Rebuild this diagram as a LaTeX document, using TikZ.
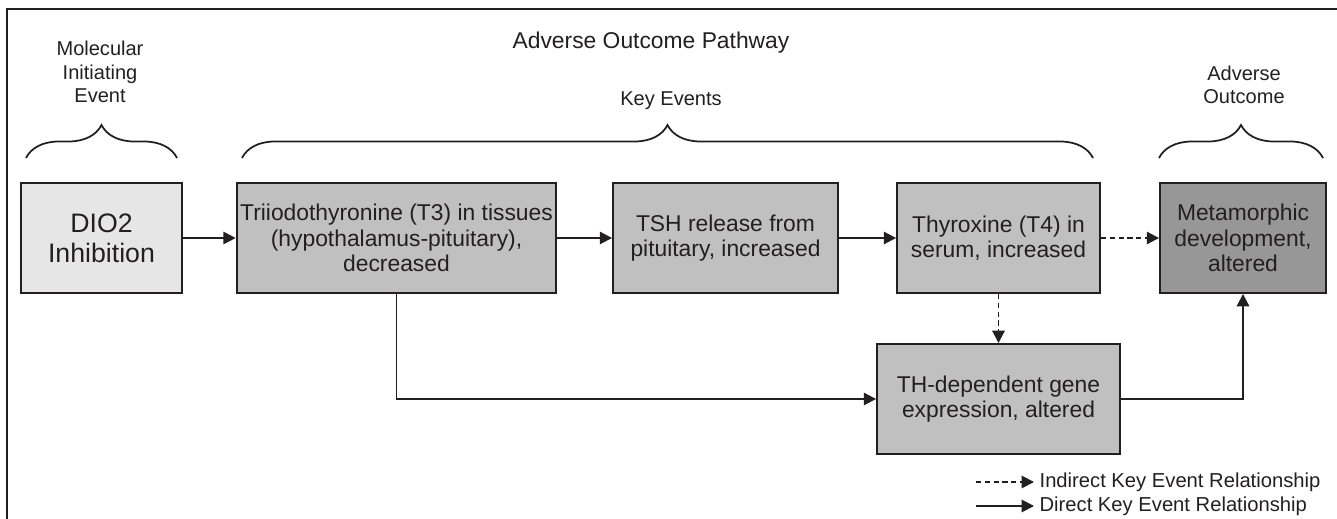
\documentclass[tikz,border=0pt]{standalone}
\usepackage{fontspec}
\setmainfont{Liberation Sans}
\usepackage{tikz}
\usetikzlibrary{calc, shapes, arrows.meta, decorations.pathreplacing}

\definecolor{ink}{HTML}{231F20}
\definecolor{mielight}{HTML}{E6E6E6}
\definecolor{kegray}{HTML}{C0C0C0}
\definecolor{aodark}{HTML}{979797}

\begin{document}
\begin{tikzpicture}[x=0.02cm, y=-0.02cm]
\tikzstyle{event}=[rectangle,draw=ink,line width=1.1pt,fill=kegray,text=ink,align=center,inner sep=2pt,minimum height=2.2cm,font=\fontsize{13}{14.5}\selectfont]
\tikzstyle{heading}=[text=ink,align=center,inner sep=0pt,font=\fontsize{11.4}{13.3}\selectfont]
\tikzstyle{direct}=[draw=ink,line width=1.1pt,-{Triangle[length=7pt,width=7pt]}]
\tikzstyle{indirect}=[direct,dash pattern=on 3pt off 2pt]
\tikzstyle{bracket}=[draw=ink,line width=1pt,decorate,decoration={brace,amplitude=0.66cm}]
\useasboundingbox (0,0) rectangle (1337,519);
\draw[ink,line width=1.1pt] (7,519) -- (7,9) -- (1337,9);
\node[heading,font=\fontsize{13}{15}\selectfont] (title) at (651,43) {Adverse Outcome Pathway};
\node[heading] (H_mie) at (100,72) {Molecular\\Initiating\\Event};
\node[heading] (H_ke) at (671,101) {Key Events};
\node[heading] (H_ao) at (1244,85) {Adverse\\Outcome};
\draw[bracket] (26,158) -- (177,158);
\draw[bracket] (242,158) -- (1093,158);
\draw[bracket] (1159,158) -- (1323,158);
\node[event,fill=mielight,minimum width=3.22cm,font=\fontsize{15.2}{17}\selectfont] (MIE) at (101.5,238) {DIO2\\Inhibition};
\node[event,minimum width=6.38cm] (KE_1) at (396.5,238) {Triiodothyronine (T3) in tissues\\(hypothalamus-pituitary),\\decreased};
\node[event,minimum width=4.5cm] (KE_2) at (725.5,238) {TSH release from\\pituitary, increased};
\node[event,minimum width=4.06cm] (KE_3) at (998.5,238) {Thyroxine (T4) in\\serum, increased};
\node[event,minimum width=4.86cm] (KE_4) at (998.5,399) {TH-dependent gene\\expression, altered};
\node[event,fill=aodark,minimum width=3.32cm] (AO) at (1243,238) {Metamorphic\\development,\\altered};
\draw[direct] (MIE) -- (KE_1);
\draw[direct] (KE_1) -- (KE_2);
\draw[direct] (KE_2) -- (KE_3);
\draw[indirect] (KE_3) -- (AO);
\draw[indirect] (KE_3) -- (KE_4);
\draw[direct] (KE_1.south) |- (KE_4.west);
\draw[direct] (KE_4.east) -| (AO.south);
% legend
\coordinate (L_1) at (976,482);
\coordinate (L_2) at (976,506);
\node[heading,anchor=west,inner sep=3pt,font=\fontsize{11.5}{13}\selectfont] (T_1) at (1034,482) {Indirect Key Event Relationship};
\node[heading,anchor=west,inner sep=3pt,font=\fontsize{11.5}{13}\selectfont] (T_2) at (1034,506) {Direct Key Event Relationship};
\draw[indirect] (L_1) -- (T_1.west);
\draw[direct] (L_2) -- (T_2.west);
\end{tikzpicture}
\end{document}
